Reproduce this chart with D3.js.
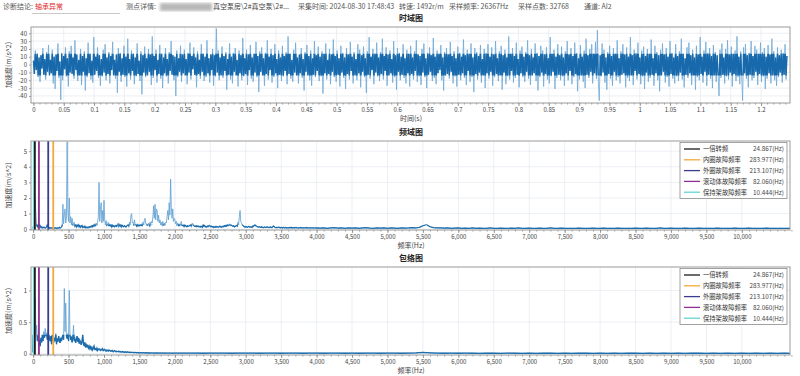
<!DOCTYPE html>
<html><head><meta charset="utf-8">
<script src="https://cdn.jsdelivr.net/npm/d3@7"></script>
<style>
html,body{margin:0;padding:0;background:#fff;}
svg{display:block;font-family:"Noto Sans CJK SC","Noto Sans",sans-serif;}
</style></head><body>
<svg id="c" width="800" height="376"></svg>
<script>
// ---------- data ----------
const sampleRate = 26367;
const samplePoints = 32768;
// decimated time waveform (m/s^2), evenly spaced over the record
const timeValues = [
5,-12,18,-7,14,-16,9,-22,12,-5,21,-13,7,-19,16,-9,25,-14,6,-11,19,-24,10,-31,13,-8,27,-17,4,-45,15,-20,11,-6,22,-15,8,-28,17,-10,
24,-12,9,-18,31,-7,13,-21,6,-14,20,-26,11,-9,17,-33,8,-16,28,-11,14,-19,5,-23,35,-13,10,-8,22,-17,12,-27,7,-15,19,-10,26,-20,9,-12,
16,-24,11,-7,29,-14,6,-18,13,-36,21,-9,15,-22,8,-13,24,-16,10,-28,33,-11,7,-19,18,-8,14,-25,9,-15,27,-12,5,-21,17,-38,12,-10,23,-16,
8,-14,20,-9,13,-26,36,-17,11,-7,19,-23,6,-12,25,-18,14,-30,9,-11,21,-15,7,-24,16,-8,30,-13,12,-20,10,-40,18,-16,8,-9,24,-22,13,-11,
19,-14,7,-25,15,-10,28,-19,11,-6,22,-13,9,-29,17,-12,6,-18,26,-9,14,-21,10,-16,31,-11,8,-23,13,-7,20,-27,12,-15,46,-10,18,-20,9,-14,
23,-17,11,-8,16,-32,7,-13,27,-19,10,-24,15,-9,21,-14,6,-28,18,-11,12,-20,34,-15,8,-12,19,-26,13,-7,25,-18,9,-22,14,-10,29,-16,11,-35,
17,-9,22,-14,8,-27,15,-12,31,-19,10,-7,20,-23,12,-16,26,-11,7,-30,18,-13,9,-21,24,-15,11,-8,16,-25,36,-12,14,-18,6,-22,19,-10,28,-14,
9,-24,13,-11,21,-17,7,-33,16,-9,25,-14,11,-20,18,-27,8,-13,30,-16,12,-8,23,-21,10,-15,17,-37,14,-11,27,-19,6,-12,20,-25,13,-9,32,-16,
11,-22,18,-13,8,-28,24,-10,15,-17,9,-31,21,-12,13,-19,29,-8,10,-24,16,-14,7,-20,26,-11,19,-29,12,-9,23,-16,8,-36,17,-13,35,-18,10,-7,
20,-25,14,-10,28,-15,9,-21,16,-12,33,-19,11,-8,22,-27,13,-14,18,-11,7,-23,30,-16,12,-32,21,-9,15,-20,10,-13,26,-17,8,-24,19,-11,14,-28,
24,-12,9,-19,17,-8,31,-22,13,-15,11,-26,20,-10,27,-16,8,-30,15,-13,22,-9,12,-21,34,-17,10,-25,18,-11,14,-7,25,-20,9,-33,16,-14,21,-12,
13,-18,29,-9,11,-24,17,-15,8,-28,23,-13,15,-20,10,-11,32,-17,12,-26,19,-8,14,-22,27,-16,9,-35,21,-12,16,-19,11,-10,25,-23,7,-14,20,-30,
15,-11,26,-18,10,-9,22,-27,13,-16,30,-12,8,-21,17,-14,24,-32,12,-10,19,-25,9,-15,36,-19,14,-8,21,-23,11,-17,28,-13,7,-29,18,-11,23,-16,
10,-22,16,-9,31,-18,12,-26,20,-14,9,-11,27,-21,15,-33,11,-16,24,-10,18,-28,13,-12,22,-19,8,-24,35,-15,14,-9,19,-31,10,-17,26,-13,12,-20,
23,-15,9,-27,17,-11,30,-20,13,-8,21,-25,11,-16,28,-12,15,-34,8,-19,25,-14,10,-22,18,-30,33,-13,12,-17,20,-9,26,-24,14,-11,29,-18,44,-21,
-46,12,-15,27,-10,19,-23,9,-32,16,-12,24,-18,11,-27,21,-9,14,-20,31,-16,8,-24,17,-13,26,-11,13,-29,22,-17,10,-21,35,-14,12,-26,19,-8,15,
-19,28,-12,9,-25,18,-15,23,-31,11,-10,20,-22,14,-17,32,-13,8,-27,24,-11,16,-20,12,-34,19,-14,27,-9,13,-23,21,-16,10,-28,30,-12,15,-18,9,
-24,26,-15,11,-21,17,-10,33,-19,14,-29,8,-13,22,-17,28,-11,12,-26,19,-14,9,-32,24,-16,13,-20,35,-12,10,-23,18,-9,29,-27,15,-13,21,-18,11,
-30,25,-14,16,-22,12,-11,-40,19,-17,27,-13,9,-24,20,-15,31,-19,13,-10,23,-28,14,-12,18,-21,36,-16,10,-25,17,-14,-46,22,-11,26,-18,12,-29,15,
-13,30,-20,11,-17,24,-9,19,-26,14,-12,28,-22,16,-15,21,-31,10,-18,25,-11,13,-24,33,-14,17,-20,9,-27,22,-16,12,-10,19,-23,15,-13,26,-19,11
];
// frequency spectrum amplitude, 0..4000 Hz every 10 Hz
const specLow = [
0.05,0.32,0.6,1.9,0.8,0.25,0.15,0.3,0.22,0.35,0.12,0.18,0.1,0.08,0.14,0.09,0.12,0.07,0.1,0.15,0.3,0.18,0.12,0.08,0.1,0.06,0.09,0.07,0.05,0.08,0.06,0.1,0.07,0.05,0.09,0.06,0.08,0.12,0.07,0.1,
0.15,0.22,1.6,0.35,0.9,1.3,0.4,0.7,5.6,1.1,0.5,2.0,0.4,0.8,0.3,0.7,0.25,0.4,0.45,0.2,0.3,0.15,0.28,0.2,0.35,0.15,0.22,0.12,0.18,0.25,0.1,0.15,0.12,0.2,0.1,0.14,0.09,0.13,0.1,0.16,
0.12,0.18,0.15,0.22,0.15,0.28,0.2,0.35,0.25,0.4,0.3,0.45,0.8,3.0,0.5,1.3,1.7,0.4,1.2,0.5,1.85,0.6,0.3,0.55,0.25,0.3,0.45,0.2,0.35,0.22,0.3,0.15,0.28,0.18,0.22,0.15,0.2,0.25,0.18,0.3,
0.4,0.2,0.35,0.2,0.3,0.15,0.25,0.2,0.15,0.22,0.18,0.14,0.2,0.25,0.3,0.2,0.45,0.3,0.9,1.0,0.4,0.45,0.25,0.6,0.3,0.3,0.2,0.35,0.2,0.28,0.22,0.3,0.25,0.35,0.2,0.45,0.3,0.6,0.7,0.35,
0.35,0.25,0.3,0.4,0.25,0.45,0.3,0.5,0.4,0.8,1.5,0.7,1.6,0.6,1.3,1.2,0.5,0.9,0.4,0.6,0.3,0.45,0.3,0.5,0.25,0.4,0.3,0.45,0.4,0.8,1.2,0.6,1.7,0.9,3.2,1.4,0.7,1.3,0.5,0.7,
0.6,0.35,0.5,0.3,0.4,0.25,0.35,0.25,0.3,0.5,0.25,0.25,0.2,0.3,0.18,0.25,0.2,0.15,0.22,0.18,0.2,0.25,0.3,0.2,0.35,0.4,0.25,0.22,0.18,0.2,0.15,0.22,0.17,0.2,0.15,0.18,0.14,0.2,0.16,0.12,
0.3,0.2,0.25,0.15,0.18,0.14,0.2,0.16,0.22,0.25,0.18,0.15,0.2,0.14,0.17,0.12,0.15,0.13,0.18,0.14,0.16,0.12,0.15,0.2,0.14,0.18,0.13,0.16,0.2,0.15,0.22,0.18,0.25,0.2,0.3,0.22,0.28,0.35,0.25,0.3,
0.25,0.2,0.18,0.22,0.15,0.18,0.2,0.25,0.2,0.45,0.3,0.8,1.2,0.5,0.4,0.3,0.25,0.2,0.15,0.18,0.14,0.16,0.12,0.15,0.18,0.14,0.16,0.13,0.15,0.12,0.2,0.18,0.25,0.3,0.22,0.2,0.17,0.15,0.13,0.16,
0.14,0.12,0.15,0.11,0.13,0.1,0.12,0.14,0.11,0.13,0.16,0.12,0.1,0.13,0.11,0.14,0.12,0.1,0.15,0.2,0.18,0.13,0.11,0.12,0.09,0.11,0.13,0.1,0.12,0.09,0.11,0.1,0.08,0.12,0.1,0.09,0.11,0.08,0.1,0.09,
0.1,0.08,0.11,0.09,0.12,0.08,0.1,0.09,0.11,0.08,0.1,0.12,0.09,0.08,0.1,0.07,0.09,0.11,0.08,0.1,0.09,0.07,0.1,0.08,0.09,0.11,0.08,0.1,0.07,0.09,0.08,0.1,0.07,0.09,0.08,0.1,0.07,0.08,0.09,0.07,0.08
];
// frequency spectrum amplitude, 4050..10700 Hz every 50 Hz
const specHigh = [
0.07,0.09,0.06,0.08,0.1,0.07,0.09,0.06,0.08,0.07,
0.09,0.06,0.08,0.1,0.07,0.06,0.08,0.07,0.09,0.06,
0.08,0.07,0.06,0.09,0.07,0.08,0.1,0.08,0.12,0.22,
0.3,0.16,0.1,0.08,0.08,0.07,0.09,0.06,0.07,0.08,
0.06,0.07,0.05,0.08,0.06,0.07,0.05,0.06,0.08,0.06,
0.05,0.07,0.06,0.05,0.07,0.06,0.08,0.05,0.06,0.07,
0.05,0.06,0.07,0.05,0.06,0.08,0.06,0.05,0.07,0.06,
0.05,0.06,0.05,0.07,0.06,0.05,0.06,0.07,0.05,0.06,
0.07,0.05,0.06,0.05,0.07,0.06,0.05,0.06,0.05,0.07,
0.06,0.05,0.07,0.06,0.05,0.06,0.08,0.05,0.06,0.07,
0.05,0.06,0.05,0.07,0.06,0.05,0.06,0.07,0.05,0.06,
0.06,0.05,0.07,0.06,0.05,0.06,0.05,0.07,0.06,0.05,
0.06,0.07,0.05,0.06,0.05,0.06,0.07,0.05,0.06,0.05,
0.06,0.05,0.06,0.05
];
// envelope spectrum amplitude, 0..2000 Hz every 10 Hz
const envLow = [
0.02,1.3,0.4,0.87,0.3,0.45,0.2,0.28,0.15,0.22,0.12,0.25,0.18,0.3,0.2,0.35,0.25,0.4,0.28,0.33,0.22,0.38,0.3,0.25,0.2,0.28,0.15,0.3,0.22,0.18,0.25,0.2,0.32,0.15,0.24,0.19,0.28,0.22,0.17,0.25,
0.2,0.26,0.3,0.22,1.03,0.35,0.8,0.28,0.24,0.32,0.2,1.0,0.3,0.22,0.27,0.18,0.25,0.45,0.2,0.23,0.17,0.22,0.28,0.19,0.25,0.16,0.21,0.18,0.14,0.2,0.3,0.16,0.12,0.18,0.1,0.14,0.11,0.13,0.09,0.12,
0.08,0.11,0.07,0.1,0.06,0.09,0.12,0.07,0.08,0.06,0.09,0.05,0.07,0.08,0.06,0.05,0.07,0.06,0.08,0.05,0.06,0.07,0.05,0.04,0.06,0.05,0.04,0.06,0.05,0.04,0.05,0.04,0.05,0.03,0.04,0.05,0.04,0.03,0.04,0.035,
0.03,0.04,0.03,0.035,0.025,0.03,0.035,0.025,0.03,0.02,0.03,0.025,0.02,0.03,0.022,0.025,0.02,0.024,0.018,0.022,0.02,0.018,0.022,0.017,0.02,0.018,0.015,0.02,0.016,0.018,0.015,0.017,0.014,0.016,0.015,0.013,0.016,0.014,0.012,0.015,
0.013,0.015,0.012,0.014,0.012,0.013,0.011,0.014,0.012,0.011,0.013,0.01,0.012,0.011,0.013,0.01,0.012,0.011,0.01,0.012,0.011,0.01,0.012,0.009,0.011,0.01,0.012,0.009,0.011,0.01,0.009,0.011,0.01,0.009,0.011,0.01,0.008,0.01,0.009,0.011,0.01
];
// envelope spectrum amplitude, 2100..10700 Hz every 100 Hz
const envHigh = [
0.01,0.009,0.011,0.008,0.01,0.009,0.01,0.008,0.011,0.009,
0.01,0.008,0.009,0.01,0.008,0.009,0.011,0.008,0.009,0.01,
0.008,0.009,0.01,0.008,0.009,0.008,0.01,0.009,0.008,0.01,
0.009,0.008,0.01,0.012,0.02,0.014,0.009,0.008,0.009,0.008,
0.009,0.008,0.007,0.009,0.008,0.007,0.009,0.008,0.007,0.008,
0.007,0.008,0.009,0.007,0.008,0.007,0.008,0.009,0.007,0.008,
0.007,0.008,0.007,0.009,0.008,0.007,0.008,0.007,0.008,0.007,
0.008,0.007,0.009,0.008,0.007,0.008,0.007,0.008,0.007,0.008,
0.007,0.008,0.007,0.008,0.007,0.008,0.007
];
const faultNames  = ["一倍转频","内圈故障频率","外圈故障频率","滚动体故障频率","保持架故障频率"];
const faultFreqs  = [24.867, 283.977, 213.107, 82.060, 10.444];
const faultLabels = ["24.867(Hz)","283.977(Hz)","213.107(Hz)","82.060(Hz)","10.444(Hz)"];
const faultColors = ["#1b1b1b","#f2a93b","#3c3c8e","#8e2f93","#62d4d4"];
const drawOrder   = [4,0,3,2,1];
const timeTicks   = [0,0.05,0.1,0.15,0.2,0.25,0.3,0.35,0.4,0.45,0.5,0.55,0.6,0.65,0.7,0.75,0.8,0.85,0.9,0.95,1,1.05,1.1,1.15,1.2];
const freqTicks   = [0,500,1000,1500,2000,2500,3000,3500,4000,4500,5000,5500,6000,6500,7000,7500,8000,8500,9000,9500,10000];
const timeYTicks  = [-40,-30,-20,-10,0,10,20,30,40];
const specYTicks  = [0,1,2,3,4,5];
const envYTicks   = [0,0.5,1];
const header = [
  {x:3,   t:"诊断结论:", c:"#555"},
  {x:35,  t:"轴承异常", c:"#e02525"},
  {x:126, t:"测点详情:", c:"#555"},
  {x:213, t:"真空泵房\\2#真空泵\\2#...", c:"#444"},
  {x:298, t:"采集时间: 2024-08-30 17:48:43", c:"#555"},
  {x:399, t:"转速: 1492r/m", c:"#555"},
  {x:449, t:"采样频率: 26367Hz", c:"#555"},
  {x:518, t:"采样点数: 32768", c:"#555"},
  {x:584, t:"通道: AI2", c:"#555"}
];

// ---------- derived series ----------
const duration = samplePoints / sampleRate;
const timeSeries = timeValues.map((v,i)=>({x: i*duration/(timeValues.length-1), y: v}));
const specSeries = specLow.map((v,i)=>({x:i*10,y:v})).concat(specHigh.map((v,i)=>({x:4050+i*50,y:v})));
const envSeries  = envLow.map((v,i)=>({x:i*10,y:v})).concat(envHigh.map((v,i)=>({x:2100+i*100,y:v})));

const svg = d3.select("#c");
const L = 31, R = 790;

// header
const hg = svg.append("g").attr("font-size", 7);
header.forEach(h => hg.append("text").attr("x", h.x).attr("y", 9).attr("fill", h.c).text(h.t));
hg.append("line").attr("x1",32).attr("x2",120).attr("y1",13.5).attr("y2",13.5).attr("stroke","#bbb").attr("stroke-width",0.8);
const defs = svg.append("defs");
defs.append("filter").attr("id","blur").append("feGaussianBlur").attr("stdDeviation",1.6);
hg.append("rect").attr("x",160).attr("y",3).attr("width",52).attr("height",8).attr("fill","#b8b8b8").attr("filter","url(#blur)");

let clipId = 0;
function clipRect(x0,y0,w,h){
  const id = "clip"+(clipId++);
  defs.append("clipPath").attr("id",id).append("rect").attr("x",x0).attr("y",y0).attr("width",w).attr("height",h);
  return `url(#${id})`;
}
function panel(o){
  const x = d3.scaleLinear().domain(o.xDomain).range([L,R]);
  const y = d3.scaleLinear().domain(o.yDomain).range([o.bottom,o.top]);
  const g = svg.append("g");
  g.append("text").attr("x",411).attr("y",o.top-6).attr("text-anchor","middle")
    .attr("font-size",8).attr("font-weight","bold").attr("fill","#222").text(o.title);
  g.append("g").selectAll("line").data(o.xTicks).join("line")
    .attr("x1",d=>x(d)).attr("x2",d=>x(d)).attr("y1",o.top).attr("y2",o.bottom)
    .attr("stroke","#e7ebf0").attr("stroke-width",0.8);
  g.append("g").selectAll("line").data(o.yTicks).join("line")
    .attr("x1",L).attr("x2",R).attr("y1",d=>y(d)).attr("y2",d=>y(d))
    .attr("stroke","#e7ebf0").attr("stroke-width",0.8);
  const line = d3.line().x(d=>x(d.x)).y(d=>y(d.y));
  const dg = g.append("g").attr("clip-path",clipRect(L,o.top,R-L,o.bottom-o.top));
  dg.append("path").datum(o.series).attr("d", line)
    .attr("fill","none").attr("stroke",o.light).attr("stroke-width",o.sw);
  const yHi = y(o.core[1]), yLo = y(o.core[0]);
  dg.append("g").attr("clip-path",clipRect(L,yHi,R-L,yLo-yHi))
    .append("path").datum(o.series).attr("d", line)
    .attr("fill","none").attr("stroke",o.dark).attr("stroke-width",o.swDark);
  if (o.faults){
    drawOrder.forEach(i=>{
      dg.append("line").attr("x1",x(faultFreqs[i])).attr("x2",x(faultFreqs[i]))
        .attr("y1",o.top).attr("y2",o.bottom).attr("stroke",faultColors[i]).attr("stroke-width",1.8);
    });
  }
  const xa = g.append("g").attr("transform",`translate(0,${o.bottom})`)
    .call(d3.axisBottom(x).tickValues(o.xTicks).tickFormat(o.xFmt).tickSize(3).tickPadding(2));
  const xm = g.append("g").attr("transform",`translate(0,${o.bottom})`)
    .call(d3.axisBottom(x).tickValues(o.xMinor).tickFormat("").tickSize(1.5));
  const ya = g.append("g").attr("transform",`translate(${L},0)`)
    .call(d3.axisLeft(y).tickValues(o.yTicks).tickFormat(o.yFmt).tickSize(2).tickPadding(2));
  [xa,xm,ya].forEach(a=>{
    a.select(".domain").remove();
    a.selectAll("line").attr("stroke","#777").attr("stroke-width",0.7);
    a.selectAll("text").attr("font-size",6).attr("fill","#444").attr("font-family",'"Noto Sans CJK SC","Noto Sans",sans-serif');
  });
  g.append("rect").attr("x",L).attr("y",o.top).attr("width",R-L).attr("height",o.bottom-o.top)
    .attr("fill","none").attr("stroke","#9a9a9a").attr("stroke-width",1);
  g.append("text").attr("x",411).attr("y",o.bottom+18).attr("text-anchor","middle")
    .attr("font-size",7).attr("fill","#444").text(o.xLabel);
  g.append("text").attr("transform",`translate(11,${(o.top+o.bottom)/2}) rotate(-90)`)
    .attr("text-anchor","middle").attr("font-size",7).attr("fill","#444").text("加速度(m/s^2)");
  if (o.faults){
    const lg = g.append("g").attr("transform",`translate(680,${o.top+1.5})`);
    lg.append("rect").attr("width",107).attr("height",56).attr("fill","#fff").attr("stroke","#8a8a8a").attr("stroke-width",0.8);
    faultNames.forEach((n,i)=>{
      const yy = 6.5 + i*10.8;
      lg.append("line").attr("x1",4).attr("x2",20).attr("y1",yy).attr("y2",yy).attr("stroke",faultColors[i]).attr("stroke-width",1.3);
      lg.append("text").attr("x",23).attr("y",yy+2.4).attr("font-size",6.3).attr("fill","#333").text(n);
      lg.append("text").attr("x",104).attr("y",yy+2.4).attr("text-anchor","end").attr("font-size",6.3).attr("fill","#444").text(faultLabels[i]);
    });
  }
}

const freqMinor = d3.range(0,10701,100);
const fmtFreq = d3.format(",");
panel({top:27,bottom:103,xDomain:[-0.004,1.2478],yDomain:[-49,48],series:timeSeries,
  xTicks:timeTicks, xMinor:d3.range(0,1.2401,0.01), xFmt:d=>String(+d.toFixed(2)),
  yTicks:timeYTicks, yFmt:d=>d, title:"时域图", xLabel:"时间(s)",
  light:"#6fa8d6", dark:"#1769ab", sw:0.8, swDark:1.3, core:[-14,14]});
panel({top:141,bottom:230,xDomain:[-30,10680],yDomain:[-0.05,5.65],series:specSeries,
  xTicks:freqTicks, xMinor:freqMinor, xFmt:fmtFreq,
  yTicks:specYTicks, yFmt:d=>d, title:"频域图", xLabel:"频率(Hz)",
  light:"#5c9ed2", dark:"#1d6cab", sw:0.8, swDark:1.2, core:[-0.05,0.3], faults:true});
panel({top:267,bottom:355,xDomain:[-30,10680],yDomain:[-0.02,1.37],series:envSeries,
  xTicks:freqTicks, xMinor:freqMinor, xFmt:fmtFreq,
  yTicks:envYTicks, yFmt:d=>d, title:"包络图", xLabel:"频率(Hz)",
  light:"#5c9ed2", dark:"#1d6cab", sw:0.8, swDark:1.3, core:[-0.02,0.3], faults:true});
</script>
</body></html>
